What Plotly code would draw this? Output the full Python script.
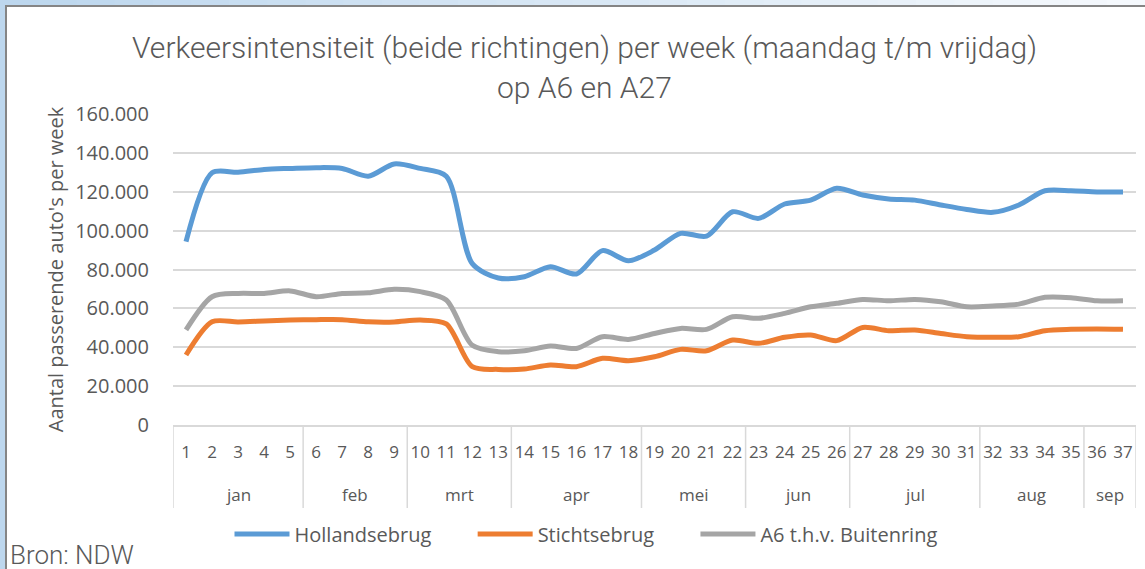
import plotly.graph_objects as go

weeks = [str(i) for i in range(1, 38)]
month_names = ["jan", "feb", "mrt", "apr", "mei", "jun", "jul", "aug", "sep"]
month_week_counts = [5, 4, 4, 5, 4, 4, 5, 4, 2]

hollandsebrug = [94.3, 129.8, 130.0, 131.5, 132.0, 132.4, 132.0, 128.0, 134.3, 132.0,
                 128.0, 83.0, 75.6, 76.3, 81.4, 77.7, 89.7, 84.5, 90.0, 98.6,
                 97.2, 109.7, 106.3, 113.7, 115.7, 121.8, 118.3, 116.3, 115.7, 113.2,
                 110.9, 109.4, 113.2, 120.5, 120.5, 119.9, 119.9]
stichtsebrug = [36.0, 53.1, 53.0, 53.5, 54.0, 54.2, 54.2, 53.1, 53.0, 54.0,
                52.0, 30.0, 28.6, 28.8, 30.9, 30.0, 34.3, 33.1, 35.1, 38.9,
                38.2, 43.7, 42.0, 45.1, 46.3, 43.4, 50.2, 48.5, 48.9, 47.1,
                45.4, 45.1, 45.4, 48.5, 49.2, 49.4, 49.2]
a6_buitenring = [48.9, 66.0, 67.7, 67.7, 69.0, 66.0, 67.7, 68.0, 69.8, 68.6,
                 64.3, 41.0, 37.7, 38.2, 40.6, 39.4, 45.4, 44.0, 47.1, 49.7,
                 49.2, 55.7, 54.9, 57.4, 60.8, 62.6, 64.6, 63.9, 64.6, 63.4,
                 60.8, 61.2, 62.2, 65.7, 65.5, 63.9, 63.9]

series = [("Hollandsebrug", hollandsebrug, "#5b9bd5"),
          ("Stichtsebrug", stichtsebrug, "#ed7d31"),
          ("A6 t.h.v. Buitenring", a6_buitenring, "#a5a5a5")]

W, H = 1145, 569
ML, MR, MT, MB = 173, 9, 114, 144
PW, PH = W - ML - MR, H - MT - MB
GRAY = "#595959"

def px(x):
    return (x - ML) / PW

def py(y):
    return (H - MB - y) / PH

fig = go.Figure()
pad = "\u00a0" * 7
for i, (name, vals, col) in enumerate(series):
    fig.add_trace(go.Scatter(
        x=weeks, y=[v * 1000 for v in vals],
        name=name + (pad if i < len(series) - 1 else ""),
        mode="lines", line=dict(color=col, width=5, shape="spline", smoothing=0.8),
    ))

shapes = []
annotations = []
# month group dividers and labels below the week labels
start = 0
bounds = [-0.5]
for m, c in zip(month_names, month_week_counts):
    end = start + c - 1
    annotations.append(dict(text=m, xref="x", yref="paper", x=(start + end) / 2, y=py(494),
                            xanchor="center", yanchor="middle", showarrow=False,
                            font=dict(size=17, color=GRAY)))
    bounds.append(end + 0.5)
    start = end + 1
for b in bounds:
    shapes.append(dict(type="line", xref="x", yref="paper", x0=b, x1=b, y0=0, y1=py(508),
                       line=dict(color="#d9d9d9", width=1.5)))

# window frame decoration
n = 30
for i in range(n):
    t = i / (n - 1)
    c0 = (189, 215, 238)
    c1 = (245, 249, 253)
    c = tuple(int(c0[k] + (c1[k] - c0[k]) * t) for k in range(3))
    shapes.append(dict(type="rect", xref="paper", yref="paper",
                       x0=px(W * i / n), x1=px(W * (i + 1) / n + 1), y0=py(0), y1=py(5),
                       fillcolor="rgb(%d,%d,%d)" % c, line=dict(width=0), layer="below"))
shapes.append(dict(type="rect", xref="paper", yref="paper", x0=px(0), x1=px(5), y0=py(0), y1=py(H),
                   fillcolor="#bdd7ee", line=dict(width=0), layer="below"))
shapes.append(dict(type="rect", xref="paper", yref="paper", x0=px(5), x1=px(W), y0=py(5), y1=py(7),
                   fillcolor="#858585", line=dict(width=0), layer="below"))
shapes.append(dict(type="rect", xref="paper", yref="paper", x0=px(5), x1=px(7), y0=py(5), y1=py(H),
                   fillcolor="#858585", line=dict(width=0), layer="below"))

annotations.append(dict(text="Verkeersintensiteit (beide richtingen) per week (maandag t/m vrijdag)",
                        xref="paper", yref="paper", x=px(584), y=py(48), xanchor="center", yanchor="middle",
                        showarrow=False, font=dict(family="Roboto", size=30, color=GRAY, weight=300)))
annotations.append(dict(text="op A6 en A27",
                        xref="paper", yref="paper", x=px(584), y=py(88), xanchor="center", yanchor="middle",
                        showarrow=False, font=dict(family="Roboto", size=30, color=GRAY, weight=300)))
annotations.append(dict(text="Bron: NDW", xref="paper", yref="paper", x=px(8), y=py(555),
                        xanchor="left", yanchor="middle", showarrow=False,
                        font=dict(family="Roboto", size=26, color=GRAY, weight=300)))

fig.update_layout(
    width=W, height=H,
    margin=dict(l=ML, r=MR, t=MT, b=MB, autoexpand=False),
    paper_bgcolor="white", plot_bgcolor="white",
    font=dict(family="Open Sans", color=GRAY),
    showlegend=True,
    legend=dict(orientation="h", x=px(586), xanchor="center", y=py(534), yanchor="middle",
                font=dict(size=20, color=GRAY), itemwidth=55, bgcolor="rgba(0,0,0,0)"),
    shapes=shapes,
    annotations=annotations,
)
fig.update_yaxes(range=[0, 160000], tickvals=list(range(0, 160001, 20000)),
                 ticktext=["0", "20.000", "40.000", "60.000", "80.000", "100.000", "120.000", "140.000", "160.000"],
                 showgrid=True, gridcolor="#d9d9d9", gridwidth=1.5, zeroline=False,
                 tickfont=dict(size=20, color=GRAY), ticklabelstandoff=23,
                 title=dict(text="Aantal passerende auto's per week", standoff=6,
                            font=dict(size=20, color=GRAY)),
                 automargin=False)
fig.update_xaxes(type="category", range=[-0.5, 36.5], showgrid=False, showline=True,
                 linecolor="#d9d9d9", linewidth=1.5, tickangle=0, ticks="",
                 ticklabelstandoff=11,
                 tickfont=dict(size=17, color=GRAY), automargin=False)

fig.write_html("out.html", config={"displayModeBar": False},
               post_script="document.body.style.margin='0px';")
